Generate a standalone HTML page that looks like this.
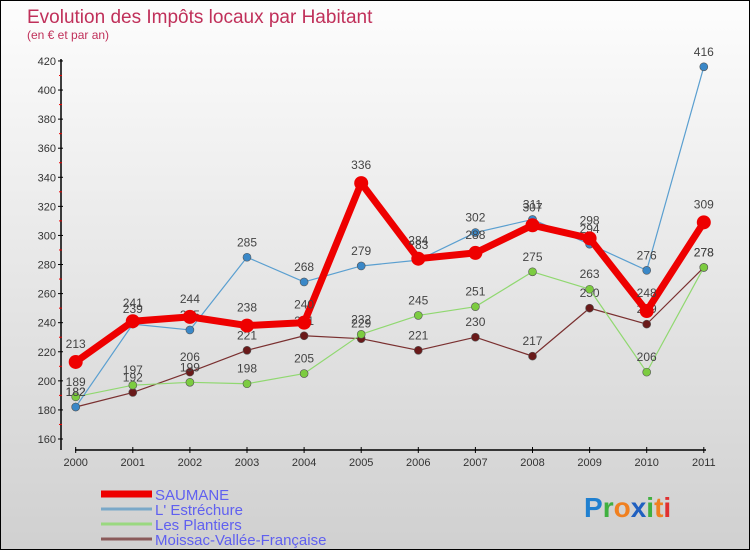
<!DOCTYPE html>
<html><head><meta charset="utf-8"><style>
html,body{margin:0;padding:0}
body{width:750px;height:550px;overflow:hidden;font-family:"Liberation Sans",sans-serif}
#wrap{position:relative;width:748px;height:548px;border:1px solid #000;background:linear-gradient(#fdfdfd,#d0d0d0)}
</style></head><body>
<div id="wrap">
<svg id="chart" width="748" height="548" style="position:absolute;left:0;top:0"></svg>
</div>
<script>
const years=["2000","2001","2002","2003","2004","2005","2006","2007","2008","2009","2010","2011"];
const saumane=[213,241,244,238,240,336,284,288,307,298,248,309];
const estrechure=[182,239,235,285,268,279,283,302,311,294,276,416];
const plantiers=[189,197,199,198,205,232,245,251,275,263,206,278];
const moissac=[182,192,206,221,231,229,221,230,217,250,239,278];
const yTicks=[160,180,200,220,240,260,280,300,320,340,360,380,400,420];
const NS="http://www.w3.org/2000/svg";
const svg=document.getElementById('chart');
function X(i){return 74.7+i*57.1;}
function Y(v){return 438-(v-160)*1.454;}
function el(t,a,p){const e=document.createElementNS(NS,t);for(const k in a)e.setAttribute(k,a[k]);(p||svg).appendChild(e);return e;}
function txt(x,y,s,a){const t=el('text',Object.assign({x:x,y:y},a));t.textContent=s;return t;}
let t;
t=txt(26,22,"Evolution des Impôts locaux par Habitant",{'font-size':19,fill:'#c0305a'});

t=txt(26,38,"(en € et par an)",{'font-size':12,fill:'#c0305a'});

// axes
let a=el('line',{x1:60,y1:58,x2:60,y2:449,stroke:'#000','stroke-width':1.5});

a=el('line',{x1:74,y1:449,x2:705,y2:449,stroke:'#000','stroke-width':1.5});

yTicks.forEach((v,i)=>{
  el('line',{x1:57,y1:Y(v),x2:62,y2:Y(v),stroke:'#000'});
  if(i<yTicks.length-1)el('line',{x1:58,y1:Y(v+10),x2:61,y2:Y(v+10),stroke:'#e00'});
  const l=txt(55,Y(v)+4,String(v),{'font-size':11,fill:'#333','text-anchor':'end'});
  
});
years.forEach((y,i)=>{
  el('line',{x1:X(i),y1:446,x2:X(i),y2:452,stroke:'#000'});
  const l=txt(X(i),465,y,{'font-size':11,fill:'#333','text-anchor':'middle'});
  
});
function series(data,color,w,r,name,fill){
  const g=el('g',{});
  
  const p=el('polyline',{points:data.map((v,i)=>X(i)+','+Y(v)).join(' '),fill:'none',stroke:color,'stroke-width':w,'stroke-linejoin':'round'},g);
  
  data.forEach((v,i)=>{
    const c=el('circle',{cx:X(i),cy:Y(v),r:r,fill:fill,stroke:'#555','stroke-width':r>5?0:0.6},g);
    
    const l=txt(X(i),Y(v)-11-(r>5?3:0),String(v),{'font-size':12,fill:'#444','text-anchor':'middle'},g);
    
  });
}
series(moissac,'#7a3030',1.2,4,'moissac','#6a1a1a');
series(plantiers,'#90d870',1.2,4,'plantiers','#7ccc40');
series(estrechure,'#5a9fd0',1.2,4,'estrechure','#3a88c8');
series(saumane,'#ee0000',7,7,'saumane','#ee0000');
// legend
const leg=[["SAUMANE","#ee0000",7],["L' Estréchure","#7aa8c8",3],["Les Plantiers","#9ad880",3],["Moissac-Vallée-Française","#8a5a5a",3]];
leg.forEach((d,i)=>{
  const y=493+i*15;
  const g=el('g',{});
  
  el('line',{x1:100,y1:y,x2:151,y2:y,stroke:d[1],'stroke-width':d[2]},g);
  txt(154,y+6,d[0],{'font-size':15,fill:'#6060f0'},g);
});
// logo
const lg=el('text',{x:583,y:516,'font-size':28,'font-weight':'bold'});

[["P","#2080d0"],["r","#40b040"],["o","#f08020"],["x","#2060c0"],["i","#40b040"],["t","#f08020"],["i","#e03030"]].forEach(c=>{const s=el('tspan',{fill:c[1]},lg);s.textContent=c[0];});
</script>
</body></html>
